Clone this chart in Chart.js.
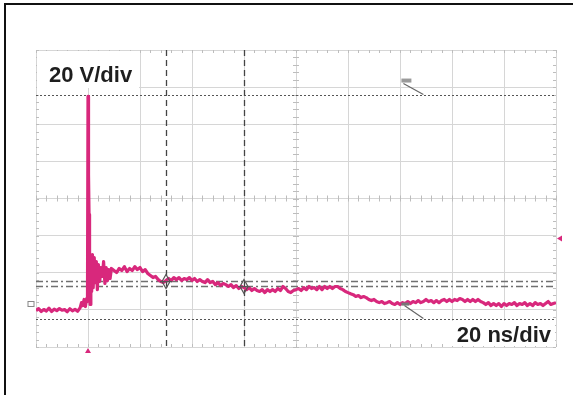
<!DOCTYPE html>
<html>
<head>
<meta charset="utf-8">
<script src="https://cdn.jsdelivr.net/npm/chart.js@4/dist/chart.umd.min.js"></script>
<style>
    html, body { margin: 0; padding: 0; background: #fff; }
    canvas { display: block; }
</style>
</head>
<body>
<canvas id="scope" width="573" height="395"></canvas>
<script>
// Escalas del osciloscopio
const nsPorDiv = 20;
const voltPorDiv = 20;
const tiempoMin = 0, tiempoMax = 200;
const voltMin = -80, voltMax = 80;

// Cursores y medidas (ns / V)
const cursoresT = [50, 80];
const cursoresV = [-44.2, -46.9];
const medidaMax = 56;
const medidaMin = -64.7;
const nivelDisparo = -21.6;
const tiempoDisparo = 20;
const nivelTierra = -57;

// Forma de onda
const tiempoNs = [
    0, 1, 2, 3, 4, 5, 6, 7, 8, 9, 10, 11, 12, 13, 14, 15, 16, 17,
    17.5, 18, 18.5, 19, 19.5, 19.8, 20, 20.2, 20.4, 20.6, 20.8, 21.1, 21.4, 21.7,
    22, 22.4, 22.8, 23.2, 23.6, 24, 24.5, 25, 25.5, 26, 26.5, 27, 27.5, 28, 28.5, 29,
    30, 31, 32, 33, 34, 35, 36, 37, 38, 39, 40, 41, 42, 43, 44, 45, 46, 47, 48, 49,
    50, 51, 52, 53, 54, 55, 56, 57, 58, 59, 60, 61, 62, 63, 64, 65, 66, 67, 68, 69,
    70, 71, 72, 73, 74, 75, 76, 77, 78, 79, 80, 81, 82, 83, 84, 85, 86, 87, 88, 89,
    90, 91, 92, 93, 94, 95, 96, 97, 98, 99, 100, 101, 102, 103, 104, 105, 106, 107, 108, 109,
    110, 111, 112, 113, 114, 115, 116, 117, 118, 119, 120, 121, 122, 123, 124, 125, 126, 127, 128, 129,
    130, 131, 132, 133, 134, 135, 136, 137, 138, 139, 140, 141, 142, 143, 144, 145, 146, 147, 148, 149,
    150, 151, 152, 153, 154, 155, 156, 157, 158, 159, 160, 161, 162, 163, 164, 165, 166, 167, 168, 169,
    170, 171, 172, 173, 174, 175, 176, 177, 178, 179, 180, 181, 182, 183, 184, 185, 186, 187, 188, 189,
    190, 191, 192, 193, 194, 195, 196, 197, 198, 199, 200
];
const voltios = [
    -60.4, -59.3, -60.9, -59.8, -60.6, -59.1, -60.9, -59.6, -60.4, -59.3, -60.2, -59.8, -61.0, -59.4, -60.5, -59.7, -60.8, -58.8,
    -56.1, -57.7, -54.4, -58.2, -53.9, -55.5, 55.0, 12.9, -8.6, -27.5, -57.1, -34.0, -50.1, -30.2,
    -48.0, -31.8, -45.3, -34.0, -49.1, -35.6, -44.7, -37.2, -42.0, -34.0, -45.8, -37.2, -44.2, -38.3, -43.1, -37.7,
    -38.8, -39.9, -37.7, -38.8, -36.7, -39.4, -37.7, -38.8, -36.7, -38.3, -37.2, -39.4, -38.3, -40.4, -41.5, -42.6, -42.0, -43.7, -44.7, -45.3,
    -44.2, -43.1, -44.2, -42.6, -43.7, -42.6, -44.2, -43.1, -43.7, -42.6, -44.2, -43.1, -44.7, -43.7, -44.7, -45.3, -43.7, -45.3, -44.7, -46.4,
    -45.3, -46.9, -45.8, -46.4, -47.4, -46.4, -48.0, -46.9, -48.5, -47.4, -48.0, -49.1, -48.0, -49.6, -48.5, -49.6, -50.1, -49.1, -50.7, -49.1,
    -50.1, -49.1, -50.1, -48.5, -49.6, -47.4, -48.5, -50.1, -50.7, -49.6, -49.1, -48.5, -49.6, -48.0, -49.1, -47.4, -48.5, -48.0, -49.1, -47.4,
    -49.1, -47.4, -48.5, -47.4, -48.5, -47.4, -47.4, -48.5, -49.1, -50.1, -50.7, -51.3, -51.8, -52.8, -52.3, -53.4, -52.8, -53.4, -54.4, -55.0,
    -54.4, -55.5, -56.1, -55.5, -56.6, -56.1, -55.5, -56.6, -57.1, -56.1, -57.1, -56.1, -56.6, -55.5, -56.6, -55.5, -56.1, -55.0, -56.1, -55.5,
    -54.4, -55.5, -55.0, -56.1, -55.0, -56.1, -55.0, -54.4, -55.5, -54.4, -55.5, -54.4, -55.0, -53.9, -54.4, -55.5, -54.4, -55.5, -54.4, -55.5,
    -54.4, -55.5, -56.1, -57.1, -56.1, -57.7, -56.6, -57.7, -56.6, -58.2, -56.6, -57.7, -56.6, -57.1, -56.1, -57.7, -56.6, -57.1, -56.1, -57.7,
    -56.6, -57.7, -56.1, -57.1, -56.6, -57.7, -56.6, -55.5, -57.1, -56.6, -56.1
];

const puntos = tiempoNs.map((t, i) => ({ x: t, y: voltios[i] }));

// Dibujo de cursores, medidas, rótulos y marco
const decoracion = {
    id: 'decoracion',
    beforeDatasetsDraw(chart) {
        const { ctx, chartArea: a, scales: { x, y } } = chart;
        ctx.save();

        // marcas menores en bordes y ejes centrales
        ctx.strokeStyle = '#bdbdbd';
        ctx.lineWidth = 1;
        const cx = x.getPixelForValue(100), cy = y.getPixelForValue(0);
        for (let t = tiempoMin; t <= tiempoMax; t += nsPorDiv / 5) {
            const px = Math.round(x.getPixelForValue(t)) + 0.5;
            ctx.beginPath();
            ctx.moveTo(px, cy - 3); ctx.lineTo(px, cy + 3);
            ctx.moveTo(px, a.top); ctx.lineTo(px, a.top + 3);
            ctx.moveTo(px, a.bottom); ctx.lineTo(px, a.bottom - 3);
            ctx.stroke();
        }
        for (let v = voltMin; v <= voltMax; v += voltPorDiv / 5) {
            const py = Math.round(y.getPixelForValue(v)) + 0.5;
            ctx.beginPath();
            ctx.moveTo(cx - 3, py); ctx.lineTo(cx + 3, py);
            ctx.moveTo(a.left, py); ctx.lineTo(a.left + 3, py);
            ctx.moveTo(a.right, py); ctx.lineTo(a.right - 3, py);
            ctx.stroke();
        }

        // líneas de medida (punteadas)
        ctx.strokeStyle = '#555';
        ctx.lineWidth = 1.2;
        ctx.setLineDash([2, 2]);
        [medidaMax, medidaMin].forEach(v => {
            const py = Math.round(y.getPixelForValue(v)) + 0.5;
            ctx.beginPath(); ctx.moveTo(a.left, py); ctx.lineTo(a.right, py); ctx.stroke();
        });

        // cursores horizontales (raya-punto)
        ctx.strokeStyle = '#707070';
        ctx.lineWidth = 1.3;
        ctx.setLineDash([7, 3, 2, 3]);
        cursoresV.forEach(v => {
            const py = Math.round(y.getPixelForValue(v)) + 0.5;
            ctx.beginPath(); ctx.moveTo(a.left, py); ctx.lineTo(a.right, py); ctx.stroke();
        });

        // cursores verticales (rayas)
        ctx.strokeStyle = '#444';
        ctx.lineWidth = 1.3;
        ctx.setLineDash([6, 4]);
        cursoresT.forEach(t => {
            const px = Math.round(x.getPixelForValue(t)) + 0.5;
            ctx.beginPath(); ctx.moveTo(px, a.top); ctx.lineTo(px, a.bottom); ctx.stroke();
        });
        ctx.setLineDash([]);

        // cajas blancas de los rótulos
        ctx.fillStyle = '#fff';
        ctx.fillRect(a.left + 1, a.top + 1, 102, 37);
        ctx.fillRect(a.right - 106, a.bottom - 26, 105, 25);
        ctx.restore();
    },
    afterDatasetsDraw(chart) {
        const { ctx, chartArea: a, scales: { x, y } } = chart;
        ctx.save();

        // marcadores de cursor
        ctx.strokeStyle = '#555';
        ctx.lineWidth = 1.2;
        cursoresT.forEach((t, i) => {
            const px = x.getPixelForValue(t), py = y.getPixelForValue(cursoresV[i]) + 1;
            ctx.beginPath();
            ctx.moveTo(px, py - 7); ctx.lineTo(px + 4, py); ctx.lineTo(px, py + 7); ctx.lineTo(px - 4, py); ctx.closePath();
            ctx.moveTo(px - 6, py); ctx.lineTo(px + 6, py);
            ctx.stroke();
        });

        // etiquetas de máximo y mínimo
        const pMax = y.getPixelForValue(medidaMax), pMin = y.getPixelForValue(medidaMin);
        const xm = x.getPixelForValue(149);
        ctx.strokeStyle = '#666';
        ctx.lineWidth = 1.2;
        ctx.beginPath();
        ctx.moveTo(xm - 20, pMax - 11); ctx.lineTo(xm, pMax);
        ctx.moveTo(xm - 19, pMin - 13); ctx.lineTo(xm, pMin);
        ctx.stroke();
        ctx.fillStyle = '#9a9a9a';
        ctx.fillRect(xm - 22, pMax - 16, 10, 4);
        ctx.fillStyle = '#777';
        ctx.fillRect(xm - 22, pMin - 16, 8, 3);

        // disparo y nivel de disparo
        ctx.fillStyle = '#d8287c';
        const pt = x.getPixelForValue(tiempoDisparo);
        ctx.beginPath();
        ctx.moveTo(pt, a.bottom + 1); ctx.lineTo(pt + 3, a.bottom + 6); ctx.lineTo(pt - 3, a.bottom + 6); ctx.closePath();
        ctx.fill();
        const pn = y.getPixelForValue(nivelDisparo);
        ctx.beginPath();
        ctx.moveTo(a.right + 1, pn); ctx.lineTo(a.right + 6, pn - 3); ctx.lineTo(a.right + 6, pn + 3); ctx.closePath();
        ctx.fill();

        // referencia de canal
        const pg = Math.round(y.getPixelForValue(nivelTierra)) + 0.5;
        ctx.strokeStyle = '#888';
        ctx.lineWidth = 1;
        ctx.strokeRect(a.left - 8, pg - 3, 6, 5);

        // rótulos de escala
        ctx.fillStyle = '#1e1e1e';
        ctx.font = 'bold 22px "Liberation Sans", Arial, sans-serif';
        ctx.textBaseline = 'alphabetic';
        ctx.textAlign = 'left';
        ctx.fillText(`${voltPorDiv} V/div`, a.left + 13, a.top + 32);
        ctx.textAlign = 'right';
        ctx.fillText(`${nsPorDiv} ns/div`, a.right - 5, a.bottom - 5);

        // marco exterior
        ctx.strokeStyle = '#111';
        ctx.lineWidth = 2;
        ctx.beginPath();
        ctx.moveTo(5, 395); ctx.lineTo(5, 4); ctx.lineTo(573, 4);
        ctx.stroke();
        ctx.restore();
    }
};

new Chart(document.getElementById('scope'), {
    type: 'line',
    data: {
        datasets: [{
            label: 'CH1',
            data: puntos,
            borderColor: '#d8287c',
            borderWidth: 3.2,
            borderJoinStyle: 'round',
            pointRadius: 0,
            tension: 0,
            fill: false
        }]
    },
    options: {
        responsive: false,
        animation: false,
        events: [],
        layout: { padding: { left: 36, right: 17, top: 50, bottom: 48 } },
        plugins: { legend: { display: false }, tooltip: { enabled: false } },
        scales: {
            x: {
                type: 'linear',
                min: tiempoMin,
                max: tiempoMax,
                ticks: { display: false, stepSize: nsPorDiv },
                grid: { color: '#d6d6d6', lineWidth: 1, drawTicks: false },
                border: { display: false }
            },
            y: {
                type: 'linear',
                min: voltMin,
                max: voltMax,
                ticks: { display: false, stepSize: voltPorDiv },
                grid: { color: '#d6d6d6', lineWidth: 1, drawTicks: false },
                border: { display: false }
            }
        }
    },
    plugins: [decoracion]
});
</script>
</body>
</html>
